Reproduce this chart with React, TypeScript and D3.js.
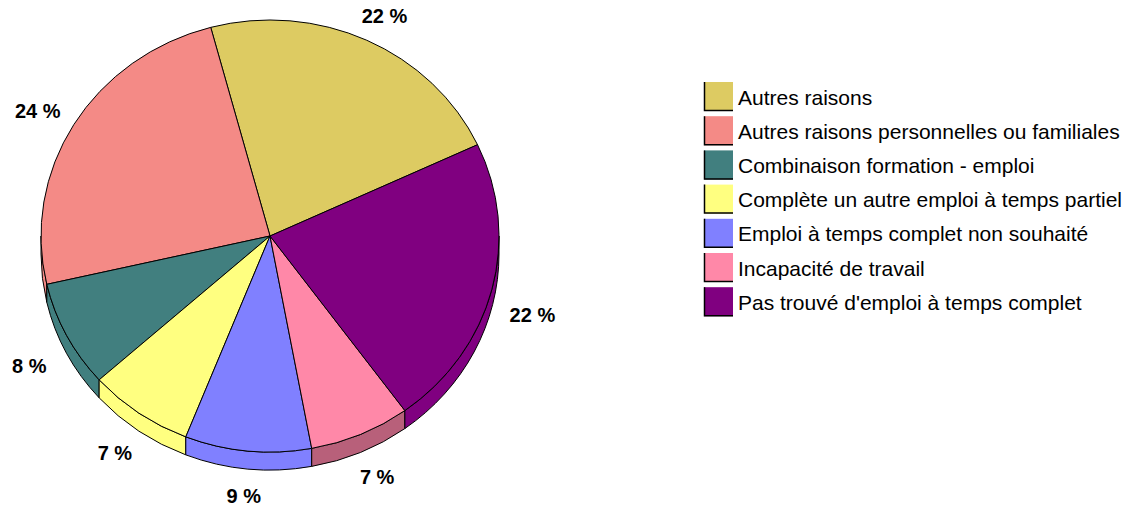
import * as d3 from 'd3';
import { useEffect, useRef } from 'react';

const categories = [
  'Autres raisons',
  'Autres raisons personnelles ou familiales',
  'Combinaison formation - emploi',
  'Complète un autre emploi à temps partiel',
  'Emploi à temps complet non souhaité',
  'Incapacité de travail',
  "Pas trouvé d'emploi à temps complet",
];
const shares = [22.2, 24.4, 8.0, 7.4, 8.9, 7.1, 21.9];
const labels = ['22 %', '24 %', '8 %', '7 %', '9 %', '7 %', '22 %'];
const colors = ['#DDCB62', '#F48A86', '#417F7F', '#FFFF80', '#8080FF', '#FF88A8', '#800080'];
const sideColors = ['#DDCB62', '#F48A86', '#417F7F', '#FFFF80', '#8080FF', '#B8607A', '#800080'];

function App() {
  const svgRef = useRef<SVGSVGElement>(null);

  useEffect(() => {
    const w = 1133;
    const h = 508;
    const cx = 270, cy = 236, rx = 229, ry = 216, depth = 18;
    const font = 'Arial, "Liberation Sans", sans-serif';
    const TAU = Math.PI * 2;

    const svg = d3.select(svgRef.current)
      .attr('width', w)
      .attr('height', h);
    svg.selectAll('*').remove();

    const start = (65 * Math.PI) / 180;
    const pie = d3.pie<number>().sort(null).startAngle(start).endAngle(start - TAU);
    const arcs = pie(shares);

    const pt = (a: number, dy = 0) => [cx + rx * Math.sin(a), cy - ry * Math.cos(a) + dy];

    // side walls (front half only)
    const walls = svg.append('g');
    arcs.forEach((d, i) => {
      let lo = Math.min(d.startAngle, d.endAngle);
      let hi = Math.max(d.startAngle, d.endAngle);
      const k = Math.floor(lo / TAU);
      lo -= k * TAU; hi -= k * TAU;
      [0, TAU].forEach(off => {
        const a = Math.max(lo, Math.PI / 2 + off);
        const b = Math.min(hi, (3 * Math.PI) / 2 + off);
        if (b <= a) return;
        const p1 = pt(a), p2 = pt(b), p3 = pt(b, depth), p4 = pt(a, depth);
        const large = b - a > Math.PI ? 1 : 0;
        walls.append('path')
          .attr('d', `M${p1}A${rx},${ry} 0 ${large} 1 ${p2}L${p3}A${rx},${ry} 0 ${large} 0 ${p4}Z`)
          .attr('fill', sideColors[i])
          .attr('stroke', '#000')
          .attr('stroke-width', 1)
          .attr('stroke-linejoin', 'round');
      });
    });

    // top face
    svg.append('g').selectAll('path')
      .data(arcs)
      .join('path')
        .attr('d', d => {
          const p0 = pt(d.startAngle), p1 = pt(d.endAngle);
          const large = Math.abs(d.startAngle - d.endAngle) > Math.PI ? 1 : 0;
          return `M${cx},${cy}L${p0}A${rx},${ry} 0 ${large} 0 ${p1}Z`;
        })
        .attr('fill', (d, i) => colors[i])
        .attr('stroke', '#000')
        .attr('stroke-width', 1)
        .attr('stroke-linejoin', 'round');

    // value labels
    svg.append('g').selectAll('text')
      .data(arcs)
      .join('text')
        .attr('x', d => {
          const m = (d.startAngle + d.endAngle) / 2;
          return cx + (rx + 42) * Math.sin(m);
        })
        .attr('y', d => {
          const m = (d.startAngle + d.endAngle) / 2;
          return cy - (ry + 27) * Math.cos(m) + (Math.cos(m) < 0 ? depth : 0);
        })
        .attr('text-anchor', 'middle')
        .attr('dominant-baseline', 'central')
        .style('font-family', font)
        .style('font-size', '20px')
        .style('font-weight', 'bold')
        .attr('fill', '#000')
        .text((d, i) => labels[i]);

    // legend
    const y = d3.scaleBand().domain(categories).range([82, 82 + 34.2 * categories.length]);
    const leg = svg.append('g').selectAll('g')
      .data(categories)
      .join('g')
        .attr('transform', c => `translate(704, ${y(c)})`);
    leg.append('rect')
      .attr('width', 29)
      .attr('height', 29)
      .attr('fill', (c, i) => colors[i]);
    leg.append('path')
      .attr('d', 'M0.5,0V28.5H29')
      .attr('fill', 'none')
      .attr('stroke', '#000')
      .attr('stroke-width', 1.5);
    leg.append('text')
      .attr('x', 34)
      .attr('y', 15)
      .attr('dominant-baseline', 'central')
      .style('font-family', font)
      .style('font-size', '21px')
      .attr('fill', '#000')
      .text(c => c);
  }, []);

  return (
    <div>
      <svg ref={svgRef} style={{ position: 'absolute', left: 0, top: 0 }}></svg>
    </div>
  );
}

export default App;
